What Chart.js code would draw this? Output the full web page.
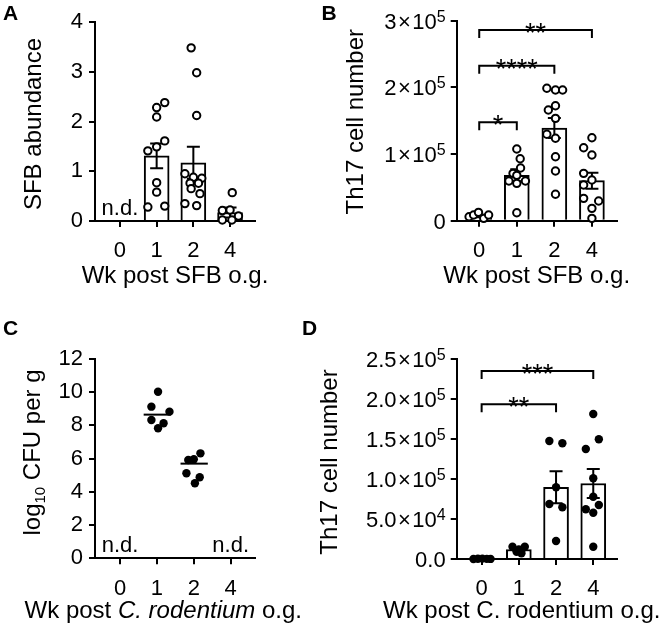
<!DOCTYPE html>
<html lang="en">
<head>
<meta charset="UTF-8">
<title>SFB and C. rodentium Th17 kinetics</title>
<script src="https://cdn.jsdelivr.net/npm/chart.js"></script>
<style>
  body { margin: 0; background: #fff; }
  .wrap { position: relative; width: 664px; height: 630px; }
  .wrap canvas { position: absolute; }
</style>
</head>
<body>
<div class="wrap">
  <canvas id="chartA" width="330" height="300" style="left:0;top:0"></canvas>
  <canvas id="chartB" width="364" height="300" style="left:300px;top:0"></canvas>
  <canvas id="chartC" width="330" height="330" style="left:0;top:300px"></canvas>
  <canvas id="chartD" width="364" height="330" style="left:300px;top:300px"></canvas>
</div>
<script>
const FONT = "'Liberation Sans', Arial, sans-serif";
const weeks = ['0', '1', '2', '4'];

// A: SFB abundance (open circles, bars = mean, SEM)
const aMean = [null, 1.31, 1.17, 0.17];
const aSem = [null, 0.25, 0.32, 0.10];
const aValues = [
  [],
  [1.41, 1.49, 1.61, 2.09, 2.28, 2.38, 0.77, 0.58, 0.28, 0.30],
  [3.48, 2.98, 2.12, 0.95, 0.88, 0.86, 0.76, 0.76, 0.65, 0.55, 0.35, 0.31],
  [0.57, 0.21, 0.22, 0.10, 0.02, 0.02]
];
const aJitter = [
  [],
  [-0.24, 0, 0.22, 0, 0, 0.22, 0, 0, -0.24, 0.22],
  [-0.06, 0.09, 0.09, -0.23, 0, 0.23, -0.09, 0.14, -0.06, 0.18, -0.23, 0.09],
  [0.06, -0.21, 0, 0.23, -0.21, 0.05]
];
const aYTicks = [0, 1, 2, 3, 4];
const aNotDetected = [0];

// B: Th17 cell number after SFB
const bMean = [7000, 68000, 139000, 60000];
const bSem = [1800, 9000, 15000, 12000];
const bValues = [
  [6000, 8500, 12500, 3500, 8500],
  [107500, 93000, 79000, 71000, 68000, 59500, 56000, 59500, 12000],
  [198600, 196000, 196000, 166000, 172500, 153500, 129600, 123600, 96000, 74500, 39600],
  [124500, 109500, 98500, 71000, 61000, 53500, 33500, 29500, 18500, 3500]
];
const bJitter = [
  [-0.27, -0.15, -0.02, 0.12, 0.25],
  [0, 0.09, 0.1, -0.1, 0, -0.21, 0, 0.23, 0],
  [-0.2, 0.03, 0.22, -0.16, 0.03, 0.03, -0.2, 0.03, 0.03, 0.03, 0.03],
  [0, -0.22, 0, -0.22, 0, -0.22, -0.22, 0.18, 0, 0]
];
const bYTicks = [0, 100000, 200000, 300000];
const bYTickLabels = [['0'], ['1', '5'], ['2', '5'], ['3', '5']];
const bBrackets = [[0, 1, 147500, '*'], [0, 2, 232500, '****'], [0, 3, 286000, '**']];

// C: C. rodentium log10 CFU per g (filled circles, line = median)
const cValues = [[], [10.03, 9.13, 8.83, 8.33, 8.13, 7.83], [5.92, 5.96, 6.32, 5.12, 4.88, 4.52], []];
const cJitter = [[], [0.03, -0.15, 0.34, -0.15, 0.18, 0.03], [-0.15, 0, 0.18, -0.2, 0.16, 0.03], []];
const cMedian = [null, 8.65, 5.7, null];
const cYTicks = [0, 2, 4, 6, 8, 10, 12];
const cNotDetected = [0, 3];

// D: Th17 cell number after C. rodentium
const dMean = [300, 11900, 89600, 94400];
const dSem = [150, 1500, 20000, 18000];
const dValues = [
  [0, 300, 500, 200, 100],
  [15400, 15400, 9100, 7100, 12000],
  [147500, 144600, 89600, 68750, 64600, 22500],
  [181250, 149600, 137500, 100900, 77900, 62100, 67500, 57900, 15400]
];
const dJitter = [
  [-0.22, -0.1, 0.02, 0.14, 0.24],
  [-0.17, 0.16, -0.06, 0.07, 0],
  [-0.18, 0.17, 0, -0.18, 0.17, 0],
  [0, 0.15, -0.2, 0, 0, -0.2, 0.15, 0, 0]
];
const dYTicks = [0, 50000, 100000, 150000, 200000, 250000];
const dYTickLabels = [['0.0'], ['5.0', '4'], ['1.0', '5'], ['1.5', '5'], ['2.0', '5'], ['2.5', '5']];
const dBrackets = [[0, 2, 193400, '**'], [0, 3, 235000, '***']];

Chart.defaults.font.family = FONT;
Chart.defaults.color = '#000';

function fontOf(s) {
  return (s.italic ? 'italic ' : '') + (s.bold ? 'bold ' : '') + (s.size || 24) + 'px ' + FONT;
}

// draws a run of text pieces (italic / sub / superscript) on one baseline
function drawRich(ctx, parts, x, y, align) {
  let total = 0;
  const widths = parts.map(s => { ctx.font = fontOf(s); const w = ctx.measureText(s.t).width + (s.gap || 0); total += w; return w; });
  let cx = align === 'right' ? x - total : align === 'center' ? x - total / 2 : x;
  ctx.textAlign = 'left';
  ctx.textBaseline = 'alphabetic';
  parts.forEach((s, i) => { ctx.font = fontOf(s); ctx.fillText(s.t, cx + (s.gap || 0) / 2, y + (s.dy || 0)); cx += widths[i]; });
}

function panelPlugin(p) {
  return {
    id: 'panel',
    beforeDatasetsDraw(chart) {
      if (!p.median) return;
      const ctx = chart.ctx, x = chart.scales.x, y = chart.scales.y;
      ctx.save();
      ctx.strokeStyle = '#000';
      ctx.lineWidth = 2;
      p.median.forEach((m, i) => {
        if (m == null) return;
        const py = y.getPixelForValue(m);
        ctx.beginPath();
        ctx.moveTo(x.getPixelForValue(i - 0.36), py);
        ctx.lineTo(x.getPixelForValue(i + 0.38), py);
        ctx.stroke();
      });
      ctx.restore();
    },
    afterDatasetDraw(chart, args) {
      if (args.meta.type !== 'bar' || !p.sem) return;
      const ctx = chart.ctx, x = chart.scales.x, y = chart.scales.y;
      ctx.save();
      ctx.strokeStyle = '#000';
      ctx.lineWidth = 2;
      p.mean.forEach((m, i) => {
        if (m == null || !p.sem[i]) return;
        const px = x.getPixelForValue(i);
        const top = y.getPixelForValue(m + p.sem[i]);
        const bot = y.getPixelForValue(Math.max(m - p.sem[i], 0));
        ctx.beginPath();
        ctx.moveTo(px, top); ctx.lineTo(px, bot);
        ctx.moveTo(px - 6.5, top); ctx.lineTo(px + 6.5, top);
        ctx.moveTo(px - 6.5, bot); ctx.lineTo(px + 6.5, bot);
        ctx.stroke();
      });
      ctx.restore();
    },
    afterDraw(chart) {
      const ctx = chart.ctx, x = chart.scales.x, y = chart.scales.y;
      ctx.save();
      ctx.fillStyle = '#000';
      ctx.strokeStyle = '#000';
      ctx.lineWidth = 2;

      // y tick labels: mantissa × 10 with superscript exponent
      if (p.yLabels) {
        y.ticks.forEach((t, i) => {
          const lab = p.yLabels[i];
          const parts = [{ t: lab[0], size: 22 }];
          if (lab[1]) {
            parts.push({ t: '×', size: 22, gap: 3 }, { t: '10', size: 22 }, { t: lab[1], size: 16, dy: -7 });
          }
          drawRich(ctx, parts, y.right - 11, y.getPixelForValue(t.value) + 8, 'right');
        });
      }

      // significance brackets
      (p.brackets || []).forEach(([a, b, v, label]) => {
        const x1 = x.getPixelForValue(a), x2 = x.getPixelForValue(b), py = y.getPixelForValue(v);
        ctx.beginPath();
        ctx.moveTo(x1, py + 8); ctx.lineTo(x1, py); ctx.lineTo(x2, py); ctx.lineTo(x2, py + 8);
        ctx.stroke();
        drawRich(ctx, [{ t: label, size: 27 }], (x1 + x2) / 2, py + 12, 'center');
      });

      // not detected
      (p.nd || []).forEach(i => {
        drawRich(ctx, [{ t: 'n.d.', size: 22 }], x.getPixelForValue(i), y.bottom - 6, 'center');
      });

      // axis titles
      drawRich(ctx, p.xTitle.parts, p.xTitle.x, p.xTitle.y, 'center');
      ctx.save();
      ctx.translate(p.yTitle.x, p.yTitle.y);
      ctx.rotate(-Math.PI / 2);
      drawRich(ctx, p.yTitle.parts, 0, 0, 'center');
      ctx.restore();

      // panel letter
      drawRich(ctx, [{ t: p.letter.t, size: 21, bold: true }], p.letter.x, p.letter.y, 'left');
      ctx.restore();
    }
  };
}

function axisStyle() {
  return {
    grid: { drawOnChartArea: false, color: '#000', lineWidth: 2, tickLength: 6, offset: false },
    border: { color: '#000', width: 2 }
  };
}

function makePanel(id, p) {
  const datasets = [];
  if (p.mean) {
    datasets.push({
      type: 'bar',
      data: p.mean.map((m, i) => ({ x: i, y: m })).filter(d => d.y != null),
      backgroundColor: '#fff', borderColor: '#000', borderWidth: 2,
      barThickness: 25, order: 2
    });
  }
  datasets.push({
    type: 'scatter',
    data: p.values.flatMap((vals, i) => vals.map((v, j) => ({ x: i + p.jitter[i][j], y: v }))),
    clip: false, order: 1,
    pointRadius: p.filled ? 4.2 : 3.7,
    pointHoverRadius: p.filled ? 4.2 : 3.7,
    pointBorderWidth: p.filled ? 0 : 2,
    pointBorderColor: '#000',
    pointBackgroundColor: p.filled ? '#000' : '#fff'
  });

  new Chart(document.getElementById(id), {
    type: 'bar',
    data: { datasets },
    options: {
      responsive: false,
      animation: false,
      layout: { padding: p.padding },
      plugins: { legend: { display: false }, tooltip: { enabled: false } },
      scales: {
        x: Object.assign({
          type: 'linear', min: p.xRange[0], max: p.xRange[1], offset: false, bounds: 'data',
          afterBuildTicks: s => { s.ticks = weeks.map((w, i) => ({ value: i })); },
          afterFit: s => { s.height = p.xHeight; },
          ticks: { callback: v => weeks[v], font: { size: 22 }, color: '#000', padding: 11, autoSkip: false, maxRotation: 0 }
        }, axisStyle()),
        y: Object.assign({
          type: 'linear', min: p.yTicks[0], max: p.yTicks[p.yTicks.length - 1], bounds: 'data',
          afterBuildTicks: s => { s.ticks = p.yTicks.map(v => ({ value: v })); },
          afterFit: s => { s.width = p.yWidth; },
          ticks: { display: !p.yLabels, font: { size: 22 }, color: '#000', padding: 6 }
        }, axisStyle())
      }
    },
    plugins: [panelPlugin(p)]
  });
}

makePanel('chartA', {
  mean: aMean, sem: aSem, values: aValues, jitter: aJitter, yTicks: aYTicks, nd: aNotDetected,
  padding: { left: 0, top: 22, right: 75, bottom: 0 }, yWidth: 95, xHeight: 79, xRange: [-0.68, 3.68],
  letter: { t: 'A', x: 3, y: 20 },
  yTitle: { parts: [{ t: 'SFB abundance' }], x: 41, y: 124 },
  xTitle: { parts: [{ t: 'Wk post SFB o.g.' }], x: 175, y: 283 }
});

makePanel('chartB', {
  mean: bMean, sem: bSem, values: bValues, jitter: bJitter, yTicks: bYTicks, yLabels: bYTickLabels,
  brackets: bBrackets,
  padding: { left: 0, top: 20.7, right: 47.3, bottom: 0 }, yWidth: 156.7, xHeight: 79.3, xRange: [-0.6, 3.66],
  letter: { t: 'B', x: 21.5, y: 20 },
  yTitle: { parts: [{ t: 'Th17 cell number' }], x: 63, y: 121.7 },
  xTitle: { parts: [{ t: 'Wk post SFB o.g.' }], x: 236.7, y: 283 }
});

makePanel('chartC', {
  median: cMedian, values: cValues, jitter: cJitter, yTicks: cYTicks, nd: cNotDetected, filled: true,
  padding: { left: 0, top: 59, right: 75, bottom: 0 }, yWidth: 95, xHeight: 71.7, xRange: [-0.68, 3.66],
  letter: { t: 'C', x: 3, y: 35 },
  yTitle: { parts: [{ t: 'log' }, { t: '10', size: 15, dy: 5 }, { t: ' CFU per g' }], x: 40, y: 152.5 },
  xTitle: { parts: [{ t: 'Wk post ' }, { t: 'C. rodentium', italic: true }, { t: ' o.g.' }], x: 163.3, y: 318 }
});

makePanel('chartD', {
  mean: dMean, sem: dSem, values: dValues, jitter: dJitter, yTicks: dYTicks, yLabels: dYTickLabels,
  brackets: dBrackets, filled: true,
  padding: { left: 0, top: 59, right: 47.3, bottom: 0 }, yWidth: 156.7, xHeight: 71, xRange: [-0.67, 3.63],
  letter: { t: 'D', x: 2, y: 35 },
  yTitle: { parts: [{ t: 'Th17 cell number' }], x: 37, y: 162 },
  xTitle: { parts: [{ t: 'Wk post C. rodentium o.g.' }], x: 221.7, y: 318 }
});
</script>
</body>
</html>
